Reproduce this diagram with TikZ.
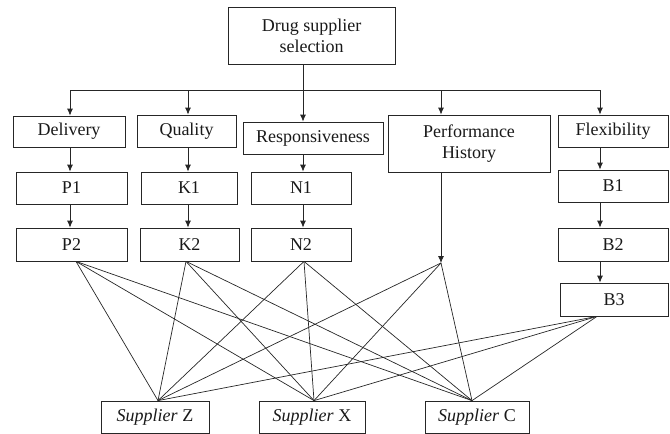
\documentclass[tikz,border=0pt]{standalone}
\usepackage{fontspec}
\setmainfont{Liberation Serif}
\newfontfamily\refserif{Liberation Serif}
\usetikzlibrary{arrows.meta}
\begin{document}
\begin{tikzpicture}[x=1pt,y=-1pt,
  box/.style={draw=black!85,line width=0.8pt,inner sep=0pt,align=center,font=\refserif\fontsize{18}{21}\selectfont,text=black!90},
  conn/.style={draw=black!85,line width=0.8pt},
  arr/.style={conn,-{Latex[length=7pt,width=6pt]}}]
\useasboundingbox (0,0) rectangle (670,434);
% nodes
\node[box,minimum width=167pt,minimum height=57pt] (top) at (311.5,35.5) {Drug supplier\\selection};
\node[box,minimum width=112pt,minimum height=31pt] (del) at (69,131.5) {Delivery};
\node[box,minimum width=99pt,minimum height=32pt] (qua) at (186.5,131) {Quality};
\node[box,minimum width=140pt,minimum height=32pt] (res) at (313,138) {Responsiveness};
\node[box,minimum width=162pt,minimum height=57pt] (per) at (469,143.5) {Performance\\History};
\node[box,minimum width=110pt,minimum height=32pt] (fle) at (613,131) {Flexibility};
\node[box,minimum width=111pt,minimum height=32pt] (p1) at (71.5,188) {P1};
\node[box,minimum width=96pt,minimum height=32pt] (k1) at (189,188) {K1};
\node[box,minimum width=100pt,minimum height=32pt] (n1) at (301,188) {N1};
\node[box,minimum width=110pt,minimum height=32pt] (b1) at (613,186) {B1};
\node[box,minimum width=111pt,minimum height=33pt] (p2) at (71.5,244.5) {P2};
\node[box,minimum width=99pt,minimum height=33pt] (k2) at (189.5,244.5) {K2};
\node[box,minimum width=100pt,minimum height=33pt] (n2) at (301,244.5) {N2};
\node[box,minimum width=110pt,minimum height=33pt] (b2) at (613,244.5) {B2};
\node[box,minimum width=108pt,minimum height=33pt] (b3) at (614,299.5) {B3};
\node[box,minimum width=108pt,minimum height=32pt] (sz) at (155,417) {\textit{Supplier} Z};
\node[box,minimum width=106pt,minimum height=32pt] (sx) at (312,417) {\textit{Supplier} X};
\node[box,minimum width=104pt,minimum height=32pt] (sc) at (477,417) {\textit{Supplier} C};
% tree from top
\coordinate (barL) at (70,90);
\coordinate (barR) at (600,90);
\draw[conn] (barL) -- (barR);
\draw[arr] (top.south -| 303,0) -- (res.north -| 303,0);
\draw[arr] (barL) -- (del.north -| barL);
\draw[arr] (188,90) -- (qua.north -| 188,0);
\draw[arr] (441,90) -- (per.north -| 441,0);
\draw[arr] (barR) -- (fle.north -| barR);
% columns
\draw[arr] (del.south -| 70,0) -- (p1.north -| 70,0);
\draw[arr] (p1.south -| 70,0) -- (p2.north -| 70,0);
\draw[arr] (qua.south -| 188,0) -- (k1.north -| 188,0);
\draw[arr] (k1.south -| 188,0) -- (k2.north -| 188,0);
\draw[arr] (res.south -| 303,0) -- (n1.north -| 303,0);
\draw[arr] (n1.south -| 303,0) -- (n2.north -| 303,0);
\draw[arr] (fle.south -| 600,0) -- (b1.north -| 600,0);
\draw[arr] (b1.south -| 600,0) -- (b2.north -| 600,0);
\draw[arr] (b2.south -| 600,0) -- (b3.north -| 600,0);
\coordinate (ph) at (441,263);
\draw[arr] (per.south -| ph) -- (ph);
% fan connections
\coordinate (p2b) at (p2.south -| 76,0);
\coordinate (k2b) at (k2.south -| 186,0);
\coordinate (n2b) at (n2.south -| 304,0);
\coordinate (b3b) at (b3.south -| 597,0);
\coordinate (szt) at (sz.north -| 158,0);
\coordinate (sxt) at (sx.north -| 314,0);
\coordinate (sct) at (sc.north -| 472,0);
\foreach \s in {p2b,k2b,n2b,ph,b3b}{
  \foreach \t in {szt,sxt,sct}{
    \draw[conn,line width=0.7pt] (\s) -- (\t);
  }
}
\end{tikzpicture}
\end{document}
